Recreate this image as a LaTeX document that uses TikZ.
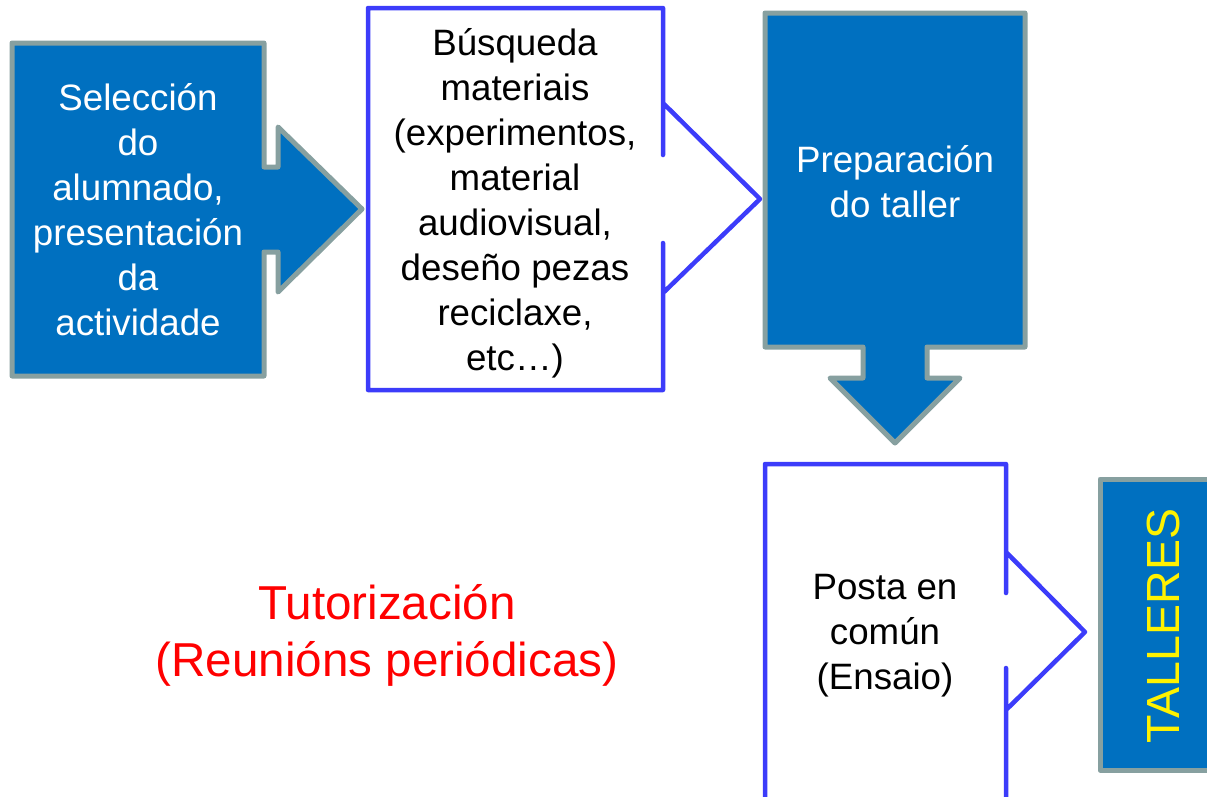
\documentclass[tikz,border=0pt]{standalone}
\usepackage{fontspec}
\setmainfont{Liberation Sans}
\definecolor{fillblue}{RGB}{0,112,192}
\definecolor{edgegray}{RGB}{135,160,160}
\definecolor{lineblue}{RGB}{60,60,250}
\tikzset{
  bluebox/.style={fill=fillblue, draw=edgegray, line width=5pt, line join=round},
  whitebox/.style={fill=white, draw=lineblue, line width=4.5pt, line join=round, line cap=round},
  boxtext/.style={align=center, font=\fontsize{36.7}{45}\selectfont, inner sep=0pt},
}
\begin{document}
\begin{tikzpicture}[x=1pt,y=-1pt]
\useasboundingbox (0,0) rectangle (1207,796);
\clip (0,0) rectangle (1207,796);
% shape 1
\path[bluebox] (12,43) -- (264,43) -- (264,167) -- (278,167) -- (278,127) -- (362,209) -- (278,292) -- (278,252) -- (264,252) -- (264,376) -- (12,376) -- cycle;
\node[boxtext, text=white] (sel) at (138,210) {Selección\\do\\alumnado,\\presentación\\da\\actividade};
% shape 2
\path[whitebox] (368,8) -- (663,8) -- (663,155) -- (663,103) -- (760,199) -- (663,293) -- (663,243) -- (663,390) -- (368,390) -- cycle;
\node[boxtext, text=black] (bus) at (515,203) {Búsqueda\\materiais\\(experimentos,\\material\\audiovisual,\\deseño pezas\\reciclaxe,\\etc…)};
% shape 3
\path[bluebox] (765,13) -- (1025,13) -- (1025,347) -- (927,347) -- (927,378) -- (960,378) -- (895,443) -- (830,378) -- (863,378) -- (863,347) -- (765,347) -- cycle;
\node[boxtext, text=white] (prep) at (895,182) {Preparación\\do taller};
% shape 4
\path[whitebox] (765,830) -- (765,464) -- (1006,464) -- (1006,593) -- (1006,552) -- (1085,632) -- (1006,710) -- (1006,668) -- (1006,830);
\node[boxtext, text=black] (posta) at (885,636) {Posta en\\común\\(Ensaio)};
% box 5
\path[bluebox] (1100,479) rectangle (1240,770);
\node[boxtext, text=yellow, font=\fontsize{46.5}{56}\selectfont, rotate=90] (tall) at (1163,626) {TALLERES};
% tutorización
\node[boxtext, text=red, font=\fontsize{47.6}{57}\selectfont] (tut) at (387,635) {Tutorización\\(Reunións periódicas)};
\end{tikzpicture}
\end{document}
